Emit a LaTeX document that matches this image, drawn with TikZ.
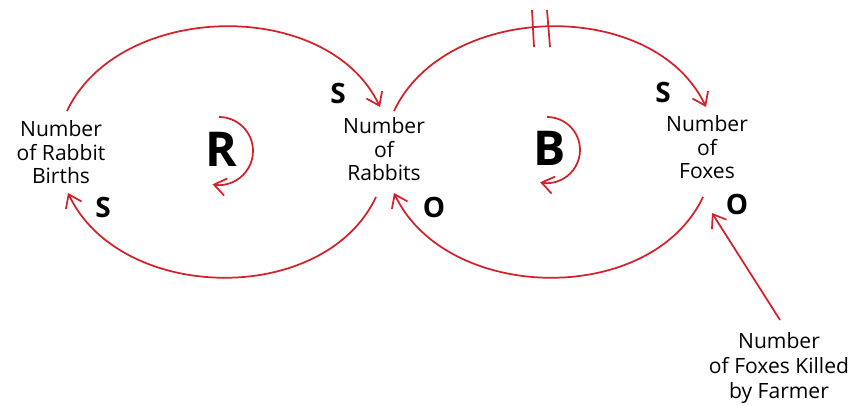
\documentclass[tikz,border=0pt]{standalone}
\usepackage{fontspec}
\setmainfont{Open Sans}
\usetikzlibrary{arrows.meta}
\definecolor{loopred}{RGB}{212,32,42}

\begin{document}
\begin{tikzpicture}[
  x=0.75pt,y=-0.75pt,
  >={Straight Barb[length=9pt,width=13pt]},
  var/.style={align=center,inner sep=0pt,font=\fontsize{15.8}{17.6}\selectfont},
  sign/.style={inner sep=0pt,font=\fontsize{21}{21}\selectfont\bfseries},
  looptype/.style={inner sep=0pt,font=\fontsize{36}{36}\selectfont\bfseries},
  link/.style={draw=loopred,line width=1.3pt}
]
  \useasboundingbox (0,0) rectangle (858,406);

  % variables
  \node[var] (births) at (61,152.5) {Number\\of Rabbit\\Births};
  \node[var] (rabbits) at (384,149.5) {Number\\of\\Rabbits};
  \node[var] (foxes) at (707,147.5) {Number\\of\\Foxes};
  \node[var,font=\fontsize{15.8}{19}\selectfont] (killed) at (779,368) {Number\\of Foxes Killed\\by Farmer};

  % loop types
  \node[looptype] (R) at (221,149) {R};
  \node[looptype] (B) at (550,148) {B};

  % link polarities
  \node[sign] (s1) at (338,94) {S};
  \node[sign] (s2) at (103,208) {S};
  \node[sign] (o1) at (434,207) {O};
  \node[sign] (s3) at (663,93) {S};
  \node[sign] (o2) at (737,204) {O};

  % rabbit loop
  \draw[link,->] ([shift={(6,-41.5)}]births.center) .. controls +(52,-110) and +(-52,-110) .. ([shift={(-4,-42.5)}]rabbits.center);
  \draw[link,->] ([shift={(-8,47.5)}]rabbits.center) .. controls +(-52,110) and +(52,110) .. ([shift={(7,40.5)}]births.center);
  \draw[link,->] ([shift={(-2,-32)}]R.center) arc[start angle=-90,end angle=101,radius=34];

  % fox loop
  \draw[link,->] ([shift={(10,-38.5)}]rabbits.center) .. controls +(52,-110) and +(-52,-110) .. ([shift={(-1,-40.5)}]foxes.center);
  \draw[link,->] ([shift={(-4,49.5)}]foxes.center) .. controls +(-52,110) and +(52,110) .. ([shift={(10,43.5)}]rabbits.center);
  \draw[link,->] ([shift={(-3,-31)}]B.center) arc[start angle=-90,end angle=102,radius=33];
  \draw[link] (532,10) -- (534,47);
  \draw[link] (547,10) -- (550,47);

  % farmer
  \draw[link,->] ([shift={(1,-48)}]killed.center) -- ([shift={(5,65.5)}]foxes.center);
\end{tikzpicture}
\end{document}
